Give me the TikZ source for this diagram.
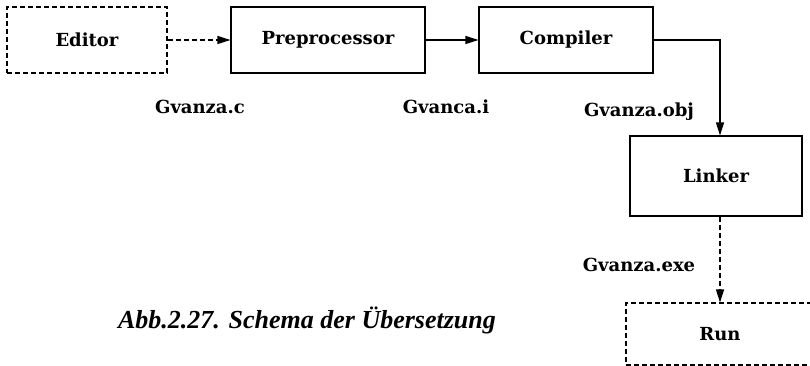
\documentclass[tikz,border=0pt]{standalone}
\usepackage{fontspec}
\setmainfont{DejaVu Serif}
\newfontfamily\captionfont{Liberation Serif}
\usepackage{tikz}
\usetikzlibrary{arrows.meta}

\begin{document}
\begin{tikzpicture}[
  stagebox/.style={draw, line width=1.1pt, inner sep=0pt, font=\fontsize{18}{21}\selectfont\bfseries},
  dashbox/.style={stagebox, dash pattern=on 5pt off 3pt},
  flow/.style={-{Triangle[length=13pt,width=8pt]}, line width=1.1pt},
  dashflow/.style={flow, dash pattern=on 5pt off 3pt},
  filelabel/.style={inner sep=0pt, font=\fontsize{18}{21}\selectfont\bfseries}
]
\useasboundingbox (0pt,0pt) rectangle (810pt,-366pt);
\clip (0pt,0pt) rectangle (810pt,-366pt);
% stages
\node[dashbox, minimum width=160pt, minimum height=66pt] (editor) at (87pt,-40pt) {Editor};
\node[stagebox, minimum width=194pt, minimum height=66pt] (prep) at (328pt,-40pt) {Preprocessor};
\node[stagebox, minimum width=174pt, minimum height=66pt] (comp) at (566pt,-40pt) {Compiler};
\node[stagebox, minimum width=172pt, minimum height=80pt] (linker) at (716pt,-176pt) {Linker};
\node[dashbox, minimum width=210pt, minimum height=62pt] (run) at (731pt,-334pt) {};
\node[filelabel] (runtext) at (720pt,-334pt) {Run};
% files
\node[filelabel] (srcfile) at (200pt,-107pt) {Gvanza.c};
\node[filelabel] (prepfile) at (446pt,-107pt) {Gvanca.i};
\node[filelabel] (objfile) at (639pt,-112pt) {Gvanza.obj};
\node[filelabel] (exefile) at (639pt,-265pt) {Gvanza.exe};
% flow
\draw[dashflow] (editor.east) -- (prep.west);
\draw[flow] (prep.east) -- (comp.west);
\draw[flow] (comp.east) -| ([xshift=4pt]linker.north);
\draw[dashflow] ([xshift=4pt]linker.south) -- ([xshift=4pt]linker.south |- run.north);
% caption
\node[inner sep=0pt, font=\captionfont\fontsize{26}{30}\selectfont\bfseries\itshape] (caption) at (307pt,-320pt) {Abb.2.27. Schema der Übersetzung};
\end{tikzpicture}
\end{document}
